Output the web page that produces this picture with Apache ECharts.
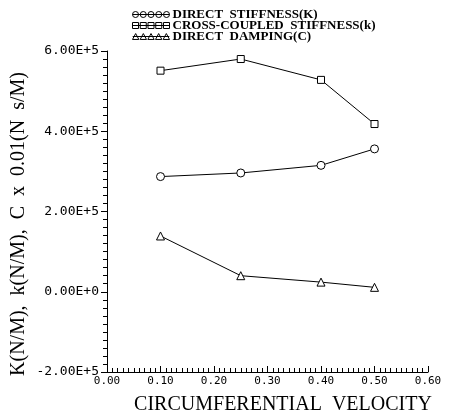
<!DOCTYPE html>
<html>
<head>
<meta charset="utf-8">
<script src="https://cdn.jsdelivr.net/npm/echarts@6/dist/echarts.min.js"></script>
<style>
html, body { margin: 0; padding: 0; background: #fff; }
#chart { width: 450px; height: 413px; }
</style>
</head>
<body>
<div id="chart"></div>
<script>
// velocity values (x)
const velocity = [0.10, 0.25, 0.40, 0.50];
const directStiffness = [287000, 296000, 315000, 356000];
const crossStiffness = [551000, 580000, 528000, 418000];
const directDamping = [139000, 40000, 24000, 11000];

const seriesNames = ['DIRECT  STIFFNESS(K)', 'CROSS-COUPLED  STIFFNESS(k)', 'DIRECT  DAMPING(C)'];
const xTickLabels = ['0.00', '0.10', '0.20', '0.30', '0.40', '0.50', '0.60'];
const yTickValues = [-200000, 0, 200000, 400000, 600000];
const yTickLabels = ['-2.00E+5', '0.00E+0', '2.00E+5', '4.00E+5', '6.00E+5'];

// legend icons: five markers in a row with the line through them (box 37 x 6)
function rowOf(shape) {
    let d = 'M0,3 L37,3 ';
    for (let i = 0; i < 5; i++) {
        const cx = 3 + i * 7.75;
        if (shape === 'circle') {
            d += 'M' + (cx - 3) + ',3 a3,3 0 1,0 6,0 a3,3 0 1,0 -6,0 ';
        } else if (shape === 'rect') {
            d += 'M' + (cx - 3) + ',0 L' + (cx + 3) + ',0 L' + (cx + 3) + ',6 L' + (cx - 3) + ',6 Z ';
        } else {
            d += 'M' + (cx - 3.2) + ',6 L' + cx + ',0 L' + (cx + 3.2) + ',6 Z ';
        }
    }
    return 'path://' + d;
}

const pairs = arr => velocity.map((v, i) => [v, arr[i]]);

const chart = echarts.init(document.getElementById('chart'));
const mkSeries = (name, data, symbol, size) => ({
    name: name,
    type: 'line',
    data: pairs(data),
    symbol: symbol,
    symbolSize: size,
    lineStyle: { color: '#000', width: 1 },
    itemStyle: { color: '#fff', borderColor: '#000', borderWidth: 1 },
    animation: false
});
const iconStyle = { color: '#fff', borderColor: '#000', borderWidth: 1 };

chart.setOption({
    backgroundColor: '#fff',
    legend: {
        orient: 'vertical',
        left: 132,
        top: 8,
        padding: 0,
        itemWidth: 37,
        itemHeight: 6,
        itemGap: -2,
        textStyle: {
            fontFamily: 'Liberation Serif',
            fontWeight: 'bold',
            fontSize: 13,
            color: '#000',
            padding: [0, 0, 0, -2]
        },
        data: [
            { name: seriesNames[0], icon: rowOf('circle'), itemStyle: iconStyle },
            { name: seriesNames[1], icon: rowOf('rect'), itemStyle: iconStyle },
            { name: seriesNames[2], icon: rowOf('tri'), itemStyle: iconStyle }
        ]
    },
    grid: { left: 107, right: 22, top: 51, bottom: 41 },
    xAxis: {
        type: 'value',
        min: 0,
        max: 0.6,
        interval: 0.1,
        axisLine: { onZero: false, lineStyle: { color: '#000', width: 1 } },
        axisTick: { inside: true, length: 6, lineStyle: { color: '#000' } },
        minorTick: { show: true, splitNumber: 10, length: 4, lineStyle: { color: '#000' } },
        splitLine: { show: false },
        axisLabel: {
            margin: 4,
            fontFamily: 'DejaVu Sans Mono',
            fontSize: 11,
            color: '#000',
            formatter: v => xTickLabels[Math.round(v * 10)]
        }
    },
    yAxis: {
        type: 'value',
        min: -200000,
        max: 600000,
        interval: 200000,
        axisLine: { show: true, lineStyle: { color: '#000', width: 1 } },
        axisTick: { show: true, inside: false, length: 6, lineStyle: { color: '#000' } },
        minorTick: { show: true, splitNumber: 10, length: 4, lineStyle: { color: '#000' } },
        splitLine: { show: false },
        axisLabel: {
            margin: 8,
            fontFamily: 'DejaVu Sans Mono',
            fontSize: 13,
            color: '#000',
            formatter: v => yTickLabels[yTickValues.indexOf(Math.round(v))]
        }
    },
    graphic: [
        {
            type: 'text',
            x: 19,
            y: 224,
            rotation: Math.PI / 2,
            style: {
                text: 'K(N/M),  k(N/M),  C  x  0.01(N  s/M)',
                fontFamily: 'Liberation Serif',
                fontSize: 20,
                fill: '#000',
                align: 'center',
                verticalAlign: 'middle'
            }
        },
        {
            type: 'text',
            x: 283,
            y: 405,
            style: {
                text: 'CIRCUMFERENTIAL  VELOCITY',
                fontFamily: 'Liberation Serif',
                fontSize: 20,
                fill: '#000',
                align: 'center',
                verticalAlign: 'middle'
            }
        }
    ],
    series: [
        mkSeries(seriesNames[0], directStiffness, 'circle', 8),
        mkSeries(seriesNames[1], crossStiffness, 'rect', 7),
        mkSeries(seriesNames[2], directDamping, 'triangle', 8)
    ]
});
</script>
</body>
</html>
